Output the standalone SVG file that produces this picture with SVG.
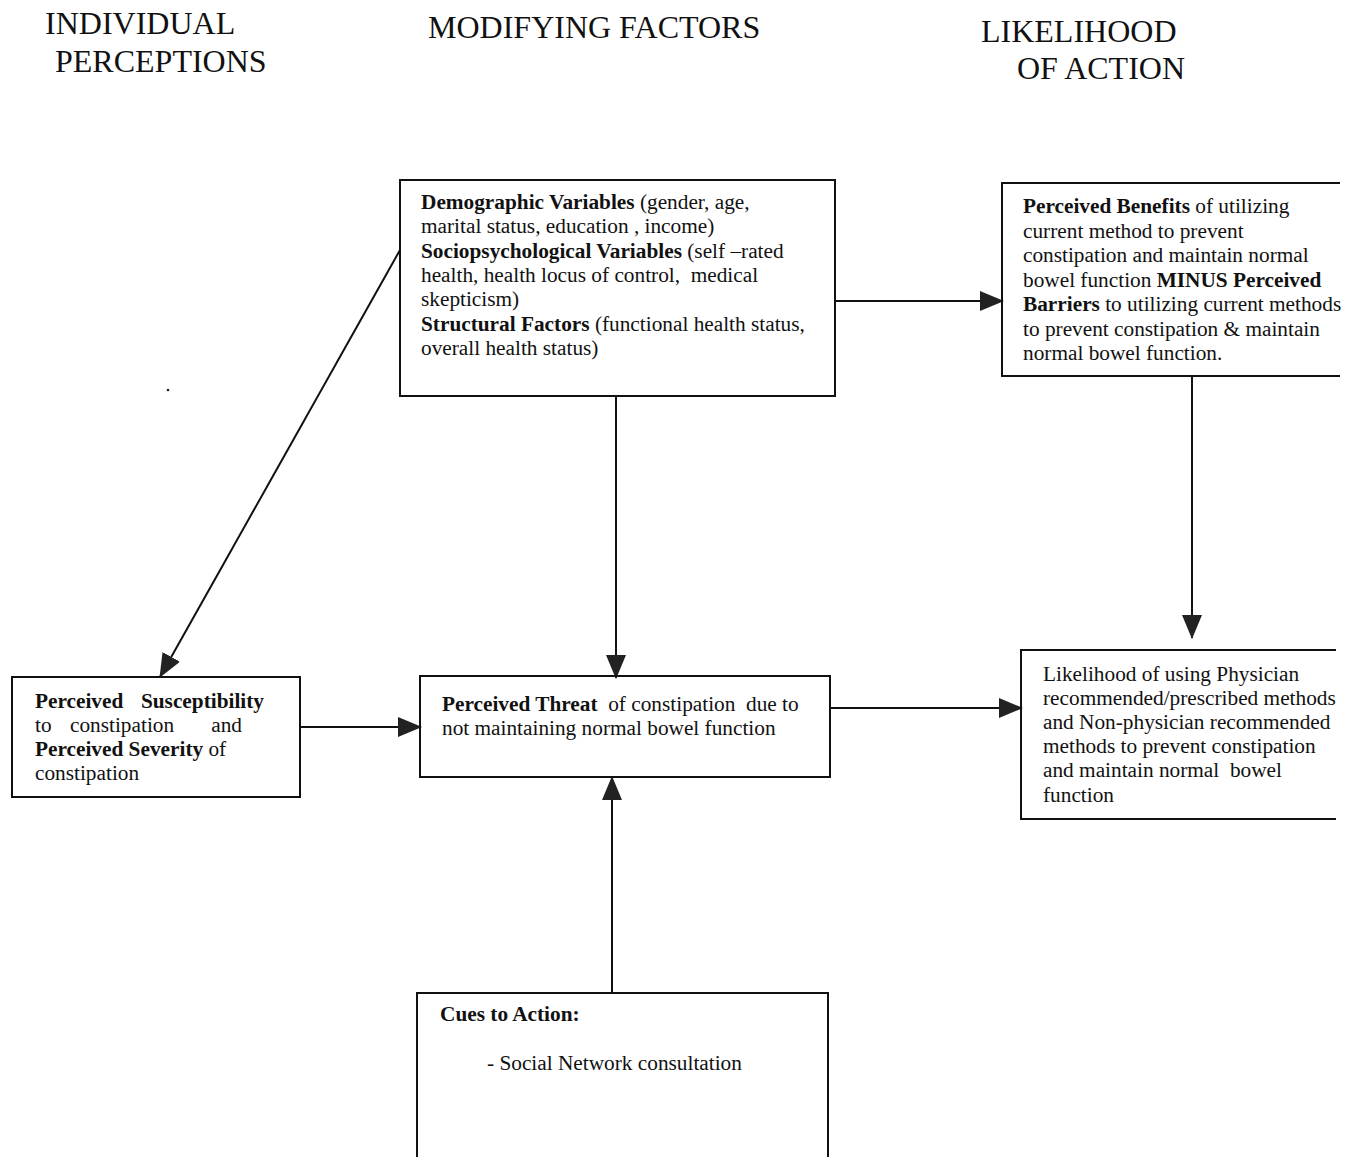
<svg xmlns="http://www.w3.org/2000/svg" width="1358" height="1157" viewBox="0 0 1358 1157">
<style>
text{font-family:"Liberation Serif","Times New Roman",serif;fill:#111}
.h{font-size:32px}
.t{font-size:21.3px}
.b{font-weight:bold}
.p{white-space:pre}
.box{fill:none;stroke:#111;stroke-width:2}
.ln{fill:none;stroke:#111;stroke-width:2}
</style>
<defs>
<marker id="ah" markerUnits="userSpaceOnUse" markerWidth="24" markerHeight="20" viewBox="0 0 24 20" refX="23" refY="10" orient="auto">
<path d="M0,0 L24,10 L0,20 Z" fill="#222"/>
</marker>
</defs>
<rect width="1358" height="1157" fill="#fff"/>
<g id="headers">
<text class="h" x="45" y="34">INDIVIDUAL</text>
<text class="h" x="55" y="72">PERCEPTIONS</text>
<text class="h" x="428" y="38">MODIFYING FACTORS</text>
<text class="h" x="981" y="42">LIKELIHOOD</text>
<text class="h" x="1017" y="79">OF ACTION</text>
</g>
<g id="connectors">
<line class="ln" x1="400" y1="250" x2="160" y2="677" marker-end="url(#ah)"/>
<line class="ln" x1="616" y1="396" x2="616" y2="678" marker-end="url(#ah)"/>
<line class="ln" x1="835" y1="301" x2="1003" y2="301" marker-end="url(#ah)"/>
<line class="ln" x1="1192" y1="376" x2="1192" y2="638" marker-end="url(#ah)"/>
<line class="ln" x1="300" y1="727" x2="421" y2="727" marker-end="url(#ah)"/>
<line class="ln" x1="830" y1="708" x2="1022" y2="708" marker-end="url(#ah)"/>
<line class="ln" x1="612" y1="993" x2="612" y2="777" marker-end="url(#ah)"/>
</g>
<g id="demographic">
<rect class="box" x="400" y="180" width="435" height="216"/>
<text class="t" x="421" y="209"><tspan class="b">Demographic Variables</tspan> (gender, age,</text>
<text class="t" x="421" y="233">marital status, education , income)</text>
<text class="t" x="421" y="258"><tspan class="b">Sociopsychological Variables</tspan> (self –rated</text>
<text class="t p" x="421" y="282" xml:space="preserve">health, health locus of control,  medical</text>
<text class="t" x="421" y="306">skepticism)</text>
<text class="t" x="421" y="331"><tspan class="b">Structural Factors</tspan> (functional health status,</text>
<text class="t" x="421" y="355">overall health status)</text>
</g>
<g id="benefits">
<path class="box" d="M1340,183 H1002 V376 H1340"/>
<text class="t" x="1023" y="213"><tspan class="b">Perceived Benefits</tspan> of utilizing</text>
<text class="t" x="1023" y="238">current method to prevent</text>
<text class="t" x="1023" y="262">constipation and maintain normal</text>
<text class="t" x="1023" y="287">bowel function <tspan class="b">MINUS Perceived</tspan></text>
<text class="t" x="1023" y="311"><tspan class="b">Barriers</tspan> to utilizing current methods</text>
<text class="t" x="1023" y="336">to prevent constipation &amp; maintain</text>
<text class="t" x="1023" y="360">normal bowel function.</text>
</g>
<g id="susceptibility">
<rect class="box" x="12" y="677" width="288" height="120"/>
<text class="t b" x="35" y="708">Perceived</text>
<text class="t b" x="264" y="708" text-anchor="end">Susceptibility</text>
<text class="t" x="35" y="732">to</text>
<text class="t" x="70" y="732">constipation</text>
<text class="t" x="242" y="732" text-anchor="end">and</text>
<text class="t" x="35" y="756"><tspan class="b">Perceived Severity</tspan> of</text>
<text class="t" x="35" y="780">constipation</text>
</g>
<g id="threat">
<rect class="box" x="420" y="676" width="410" height="101"/>
<text class="t p" x="442" y="711" xml:space="preserve"><tspan class="b">Perceived Threat</tspan>  of constipation  due to</text>
<text class="t" x="442" y="735">not maintaining normal bowel function</text>
</g>
<g id="likelihood">
<path class="box" d="M1336,650 H1021 V819 H1336"/>
<text class="t" x="1043" y="681">Likelihood of using Physician</text>
<text class="t" x="1043" y="705">recommended/prescribed methods</text>
<text class="t" x="1043" y="729">and Non-physician recommended</text>
<text class="t" x="1043" y="753">methods to prevent constipation</text>
<text class="t p" x="1043" y="777" xml:space="preserve">and maintain normal  bowel</text>
<text class="t" x="1043" y="802">function</text>
</g>
<g id="cues">
<path class="box" d="M417,1157 V993 H828 V1157"/>
<text class="t b" x="440" y="1021">Cues to Action:</text>
<text class="t" x="487" y="1070">- Social Network consultation</text>
</g>
<circle cx="168" cy="390" r="1.3" fill="#222"/>
</svg>
